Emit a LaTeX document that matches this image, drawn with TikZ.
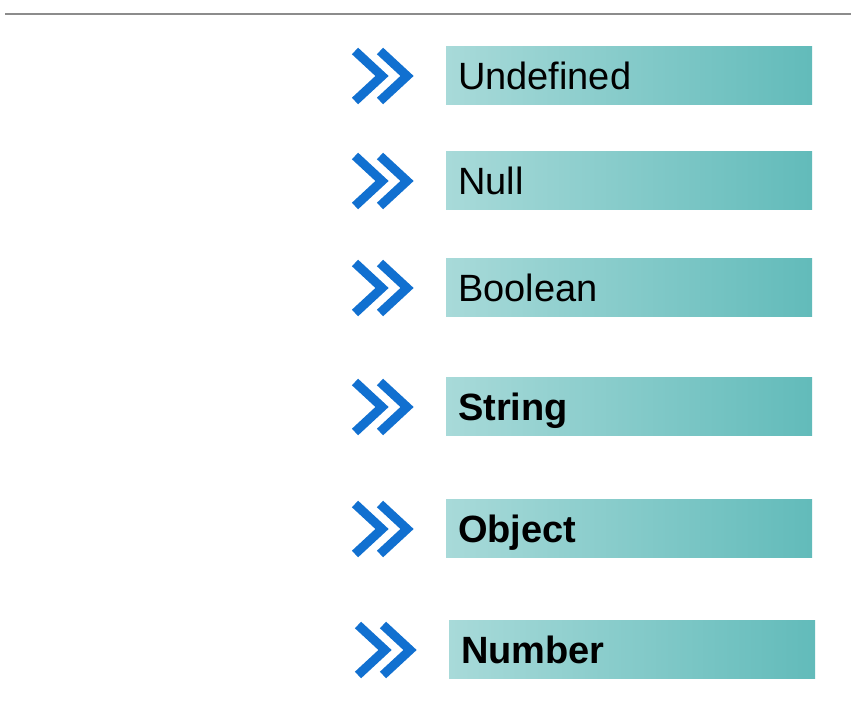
\documentclass[tikz,border=0pt]{standalone}
\usepackage{fontspec}
\setmainfont{Liberation Sans}
\usepackage{xcolor}
\usetikzlibrary{positioning}
\usetikzlibrary{calc}
\definecolor{chevblue}{RGB}{17,112,208}
\definecolor{tealleft}{RGB}{168,218,217}
\definecolor{tealright}{RGB}{98,187,186}
\definecolor{rulegray}{RGB}{140,140,140}
\tikzstyle{typebox} = [rectangle, left color=tealleft, right color=tealright, minimum height=58pt, text width=342pt, inner xsep=12pt, inner ysep=0pt, outer sep=0pt, align=left, text height=27pt, text depth=0pt, font=\fontsize{38}{40}\selectfont]
\tikzstyle{chevron} = [draw=chevblue, line width=9pt, line join=miter, line cap=butt]

\begin{document}
\begin{tikzpicture}[x=1pt, y=1pt]
        \useasboundingbox (0,0) rectangle (851,719);

        % Rule at the top
        \draw[rulegray, line width=2pt] (5,705) -- (851,705);

        % Type boxes
        \node[typebox, anchor=west] (undefined) at (446,643) {Undefined};
        \node[typebox, below=47pt of undefined] (null) {Null};
        \node[typebox, below=49pt of null] (boolean) {Boolean};
        \node[typebox, below=61pt of boolean] (string) {\textbf{String}};
        \node[typebox, below=64pt of string] (object) {\textbf{Object}};
        \node[typebox, below=63pt of object, xshift=3pt] (number) {\textbf{Number}};

        % Double chevrons left of each box
        \foreach \t in {undefined,null,boolean,string,object,number} {
            \draw[chevron] ($(\t.west)+(-91,25)$) -- ($(\t.west)+(-64,0)$) -- ($(\t.west)+(-91,-25)$);
            \draw[chevron] ($(\t.west)+(-66,25)$) -- ($(\t.west)+(-39,0)$) -- ($(\t.west)+(-66,-25)$);
        }
\end{tikzpicture}
\end{document}
